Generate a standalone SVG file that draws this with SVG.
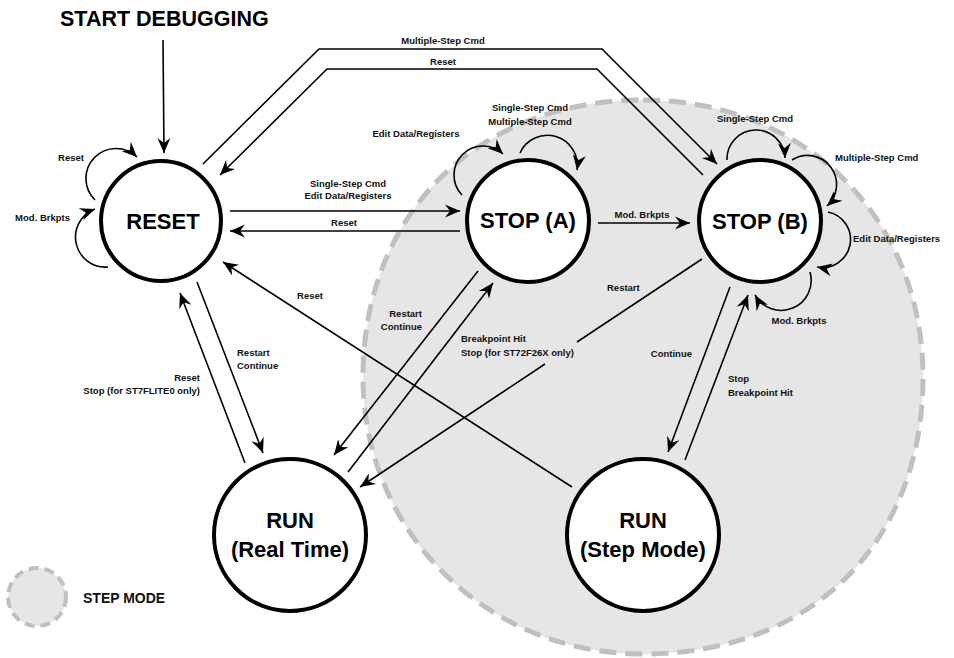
<svg xmlns="http://www.w3.org/2000/svg" width="954" height="658" viewBox="0 0 954 658">
<style>
.lbl{font-family:"Liberation Sans",Arial,sans-serif;font-weight:bold;font-size:9.5px;fill:#111}
.node{font-family:"Liberation Sans",Arial,sans-serif;font-weight:bold;font-size:22px;fill:#000;text-anchor:middle}
.ns{fill:#fff;stroke:#000;stroke-width:4}
.c{fill:none;stroke:#000;stroke-width:1.6}
.m{text-anchor:middle}
.e{text-anchor:end}
</style>
<defs>
<marker id="arr" markerUnits="userSpaceOnUse" markerWidth="17" markerHeight="15" viewBox="-16 -7.5 17 15" refX="0" refY="0" orient="auto">
<path d="M0,0 L-15,-6.5 L-10,0 L-15,6.5 Z" fill="#000"/>
</marker>
</defs>
<rect width="954" height="658" fill="#fff"/>
<g id="stepmode-area">
<path d="M643,100 C804,100 923,217.7 923,377 C923,543.2 811,654 643,654 C486.2,654 363,532.1 363,377 C363,213.6 477.8,100 643,100 Z" fill="#e6e6e6" stroke="#c0c0c0" stroke-width="5" stroke-dasharray="17 9"/>
</g>
<g id="legend">
<circle cx="37" cy="597" r="29" fill="#e6e6e6" stroke="#c0c0c0" stroke-width="4" stroke-dasharray="10 6"/>
<text class="lbl" x="83" y="603" style="font-size:14px">STEP MODE</text>
</g>
<g id="connectors">
<line class="c" x1="163" y1="40" x2="164" y2="153" marker-end="url(#arr)"/>
<polyline class="c" points="203,164 319,49 602,49 717,164" marker-end="url(#arr)"/>
<polyline class="c" points="703,175 597,69 327,69 220,175" marker-end="url(#arr)"/>
<path class="c" d="M95,200 A30,30 0 0 1 137,157" marker-end="url(#arr)"/>
<path class="c" d="M108,267 A30,30 0 0 1 95,209" marker-end="url(#arr)"/>
<path class="c" d="M462,195 A29,29 0 0 1 503,154" marker-end="url(#arr)"/>
<path class="c" d="M520,153 A30,30 0 0 1 577,170" marker-end="url(#arr)"/>
<path class="c" d="M727,160 A29,29 0 0 1 785,158" marker-end="url(#arr)"/>
<path class="c" d="M792,160 A29,29 0 0 1 827,206" marker-end="url(#arr)"/>
<path class="c" d="M828,212 A28,28 0 0 1 817,267" marker-end="url(#arr)"/>
<path class="c" d="M810,272 A30,30 0 0 1 755,295" marker-end="url(#arr)"/>
<line class="c" x1="230" y1="211" x2="460" y2="211" marker-end="url(#arr)"/>
<line class="c" x1="460" y1="231" x2="230" y2="231" marker-end="url(#arr)"/>
<line class="c" x1="598" y1="223" x2="690" y2="223" marker-end="url(#arr)"/>
<line class="c" x1="197" y1="282" x2="263" y2="453" marker-end="url(#arr)"/>
<line class="c" x1="245" y1="463" x2="180" y2="293" marker-end="url(#arr)"/>
<line class="c" x1="572" y1="487" x2="223" y2="262" marker-end="url(#arr)"/>
<line class="c" x1="478" y1="271" x2="334" y2="455" marker-end="url(#arr)"/>
<line class="c" x1="348" y1="472" x2="493" y2="283" marker-end="url(#arr)"/>
<line class="c" x1="702" y1="259" x2="577" y2="342"/>
<line class="c" x1="545" y1="364" x2="360" y2="487" marker-end="url(#arr)"/>
<line class="c" x1="730" y1="287" x2="668" y2="452" marker-end="url(#arr)"/>
<line class="c" x1="685" y1="460" x2="748" y2="295" marker-end="url(#arr)"/>
</g>
<g id="node-reset">
<circle class="ns" cx="161" cy="221" r="60"/>
<text class="node" x="163" y="229">RESET</text>
</g>
<g id="node-stopa">
<circle class="ns" cx="528" cy="221" r="61"/>
<text class="node" x="528" y="228">STOP (A)</text>
</g>
<g id="node-stopb">
<circle class="ns" cx="760" cy="221" r="61"/>
<text class="node" x="760" y="229">STOP (B)</text>
</g>
<g id="node-runrt">
<circle class="ns" cx="290" cy="535" r="76"/>
<text class="node" x="290" y="528">RUN</text>
<text class="node" x="290" y="557">(Real Time)</text>
</g>
<g id="node-runsm">
<circle class="ns" cx="643" cy="535" r="76"/>
<text class="node" x="643" y="528">RUN</text>
<text class="node" x="643" y="557">(Step Mode)</text>
</g>
<g id="labels">
<text x="60" y="26" style="font-family:'Liberation Sans',Arial,sans-serif;font-weight:bold;font-size:21.5px">START DEBUGGING</text>
<text class="lbl m" x="443" y="44">Multiple-Step Cmd</text>
<text class="lbl m" x="443" y="65">Reset</text>
<text class="lbl m" x="71" y="161">Reset</text>
<text class="lbl e" x="70" y="221">Mod. Brkpts</text>
<text class="lbl m" x="416" y="137">Edit Data/Registers</text>
<text class="lbl m" x="530" y="111">Single-Step Cmd</text>
<text class="lbl m" x="530" y="125">Multiple-Step Cmd</text>
<text class="lbl m" x="755" y="122">Single-Step Cmd</text>
<text class="lbl" x="835" y="161">Multiple-Step Cmd</text>
<text class="lbl" x="853" y="242">Edit Data/Registers</text>
<text class="lbl m" x="799" y="324">Mod. Brkpts</text>
<text class="lbl m" x="348" y="187">Single-Step Cmd</text>
<text class="lbl m" x="348" y="199">Edit Data/Registers</text>
<text class="lbl m" x="344" y="226">Reset</text>
<text class="lbl m" x="642" y="218">Mod. Brkpts</text>
<text class="lbl" x="237" y="356">Restart</text>
<text class="lbl" x="237" y="369">Continue</text>
<text class="lbl e" x="200" y="381">Reset</text>
<text class="lbl e" x="200" y="394">Stop (for ST7FLITE0 only)</text>
<text class="lbl m" x="310" y="299">Reset</text>
<text class="lbl e" x="422" y="317">Restart</text>
<text class="lbl e" x="422" y="330">Continue</text>
<text class="lbl" x="461" y="342">Breakpoint Hit</text>
<text class="lbl" x="461" y="356">Stop (for ST72F26X only)</text>
<text class="lbl" x="607" y="291">Restart</text>
<text class="lbl e" x="692" y="357">Continue</text>
<text class="lbl" x="728" y="382">Stop</text>
<text class="lbl" x="728" y="396">Breakpoint Hit</text>
</g>
</svg>
